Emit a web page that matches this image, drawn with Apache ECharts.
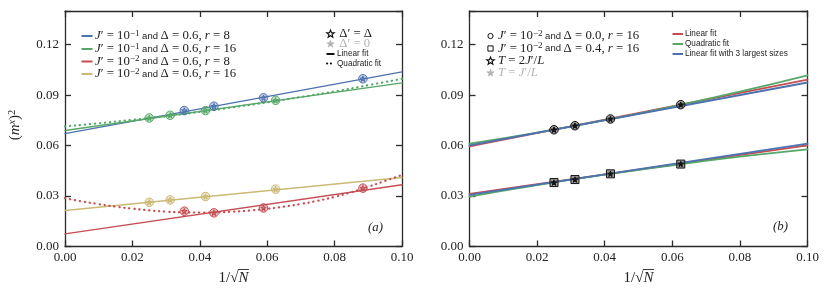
<!DOCTYPE html>
<html><head><meta charset="utf-8">
<script src="https://cdn.jsdelivr.net/npm/echarts@6/dist/echarts.min.js"></script>
<style>html,body{margin:0;padding:0;background:#fff}#c{width:831px;height:299px}</style>
</head><body><div id="c"></div>
<script>
// ---------- data ----------
const xTickRange = [0, 0.1];
const yTickRange = [0, 0.14];
// panel (a)
const xR8 = [0.0354, 0.0442, 0.0589, 0.0884];
const xR16 = [0.0250, 0.0312, 0.0417, 0.0625];
const yBlueR8 = [0.0808, 0.0834, 0.0884, 0.0997];
const yGreenR16 = [0.0764, 0.0780, 0.0808, 0.0869];
const yRedR8 = [0.0210, 0.0200, 0.0229, 0.0347];
const yYellowR16 = [0.0263, 0.0277, 0.0297, 0.0341];
const fitX = [0, 0.1];
const blueLinFit = [0.0671, 0.1038];
const greenLinFit = [0.0690, 0.0973];
const redLinFit = [0.0075, 0.0367];
const yellowLinFit = [0.0214, 0.0410];
const greenQuadX = [0, 0.01, 0.02, 0.03, 0.04, 0.05, 0.06, 0.07, 0.08, 0.09, 0.1];
const greenQuadY = [0.0714, 0.0732, 0.0753, 0.0775, 0.0800, 0.0828, 0.0857, 0.0889, 0.0922, 0.0959, 0.0997];
const redQuadX = [0, 0.005, 0.01, 0.015, 0.02, 0.025, 0.03, 0.035, 0.04, 0.045, 0.05, 0.055, 0.06, 0.065, 0.07, 0.075, 0.08, 0.085, 0.09, 0.095, 0.1];
const redQuadY = [0.0287, 0.0268, 0.0252, 0.0237, 0.0225, 0.0215, 0.0207, 0.0203, 0.0202, 0.0203, 0.0207, 0.0214, 0.0224, 0.0237, 0.0253, 0.0272, 0.0295, 0.0323, 0.0355, 0.0390, 0.0425];
// panel (b)
const xB = [0.0250, 0.0312, 0.0417, 0.0625];
const yCircle = [0.0694, 0.0718, 0.0758, 0.0843];
const ySquare = [0.0380, 0.0398, 0.0432, 0.0490];
const circLin = [0.0595, 0.0992];
const circLin3 = [0.0601, 0.0975];
const quadXB = [0, 0.02, 0.04, 0.06, 0.08, 0.1];
const circQuad = [0.0611, 0.0677, 0.0751, 0.0832, 0.0921, 0.1018];
const sqLin = [0.0313, 0.0601];
const sqLin3 = [0.0307, 0.0611];
const sqQuad = [0.0297, 0.0365, 0.0427, 0.0483, 0.0534, 0.0578];

const legendA = [
  ['−1', '0.6', '8'],
  ['−1', '0.6', '16'],
  ['−2', '0.6', '8'],
  ['−2', '0.6', '16']
];
const legendB = [
  ['−2', '0.0', '16'],
  ['−2', '0.4', '16']
];
const fitLegendB = ['Linear fit', 'Quadratic fit', 'Linear fit with 3 largest sizes'];

// ---------- styles ----------
const C = {blue:'#4C72B0', green:'#55A868', red:'#C44E52', yellow:'#CCB974'};
const AX = '#2b2b2b';
const SERIF = 'Liberation Serif';
const SANS = 'Liberation Sans';
const STAR = 'path://M0,-10L2.35,-3.24L9.51,-3.09L3.8,1.24L5.88,8.09L0,4L-5.88,8.09L-3.8,1.24L-9.51,-3.09L-2.35,-3.24Z';
const GREY = '#b3b3b3';
const INK = '#222';

const zip = (xs, ys) => xs.map((x, i) => [x, ys[i]]);
const grids = [
  {left: 65, top: 11, width: 337, height: 235.5},
  {left: 469.5, top: 11, width: 338, height: 235.5}
];

function xAx(g, pos) {
  return {gridIndex: g, type: 'value', min: xTickRange[0], max: xTickRange[1], interval: 0.02, position: pos,
    axisLine: {show: true, onZero: false, lineStyle: {color: AX, width: 1.3}},
    axisTick: {show: true, inside: true, length: 6, lineStyle: {color: AX, width: 1.3}},
    axisLabel: {show: pos === 'bottom', margin: 5, fontFamily: SERIF, fontSize: 13, color: INK,
      formatter: v => v.toFixed(2)},
    splitLine: {show: false}};
}
function yAx(g, pos) {
  return {gridIndex: g, type: 'value', min: yTickRange[0], max: yTickRange[1], interval: 0.03, position: pos,
    axisLine: {show: true, onZero: false, lineStyle: {color: AX, width: 1.3}},
    axisTick: {show: true, inside: true, length: 6, lineStyle: {color: AX, width: 1.3}},
    axisLabel: {show: pos === 'left', margin: 6, fontFamily: SERIF, fontSize: 13, color: INK,
      formatter: v => v > 0.125 ? '' : v.toFixed(2)},
    splitLine: {show: false}};
}

function line(xi, xs, ys, color, dotted, w, z) {
  return {type: 'line', xAxisIndex: xi, yAxisIndex: xi, data: zip(xs, ys), showSymbol: false, symbol: 'none',
    smooth: xs.length > 2, z: z || 2, silent: true,
    lineStyle: {color: color, width: w || 1.4, type: dotted ? [0.3, 4.7] : 'solid', cap: 'round'}};
}
function pts(xi, xs, ys, symbol, size, fill, stroke, z) {
  return {type: 'scatter', xAxisIndex: xi, yAxisIndex: xi, data: zip(xs, ys), symbol: symbol, symbolSize: size, z: z || 5,
    itemStyle: {color: fill, borderColor: stroke, borderWidth: 1, opacity: 1}};
}
function alpha(hex, a) {
  const n = parseInt(hex.slice(1), 16);
  return `rgba(${n >> 16},${(n >> 8) & 255},${n & 255},${a})`;
}

const series = [
  // panel a
  line(0, fitX, blueLinFit, C.blue),
  line(0, fitX, greenLinFit, C.green),
  line(0, fitX, redLinFit, C.red),
  line(0, fitX, yellowLinFit, C.yellow),
  line(0, greenQuadX, greenQuadY, C.green, true, 2.2),
  line(0, redQuadX, redQuadY, C.red, true, 2.2),
  pts(0, xR8, yBlueR8, 'circle', 8.5, alpha(C.blue, 0.35), C.blue),
  pts(0, xR8, yBlueR8, STAR, 5.5, alpha(C.blue, 0.6), C.blue, 6),
  pts(0, xR16, yGreenR16, 'circle', 8.5, alpha(C.green, 0.35), C.green),
  pts(0, xR16, yGreenR16, STAR, 5.5, alpha(C.green, 0.6), C.green, 6),
  pts(0, xR8, yRedR8, 'circle', 8.5, alpha(C.red, 0.35), C.red),
  pts(0, xR8, yRedR8, STAR, 5.5, alpha(C.red, 0.6), C.red, 6),
  pts(0, xR16, yYellowR16, 'circle', 8.5, alpha(C.yellow, 0.35), C.yellow),
  pts(0, xR16, yYellowR16, STAR, 5.5, alpha(C.yellow, 0.6), C.yellow, 6),
  // panel b
  line(2, fitX, circLin, C.red, false, 1.8, 2),
  line(2, quadXB, circQuad, C.green, false, 1.8, 3),
  line(2, fitX, circLin3, C.blue, false, 1.8, 4),
  line(2, fitX, sqLin, C.red, false, 1.8, 2),
  line(2, quadXB, sqQuad, C.green, false, 1.8, 3),
  line(2, fitX, sqLin3, C.blue, false, 1.8, 4),
  pts(2, xB, yCircle, 'circle', 8.5, 'rgba(90,90,90,0.6)', '#111'),
  pts(2, xB, yCircle, STAR, 5.5, '#111', '#111', 6),
  pts(2, xB, ySquare, 'rect', 8, 'rgba(90,90,90,0.6)', '#111'),
  pts(2, xB, ySquare, STAR, 5.5, '#111', '#111', 6)
];

// ---------- text helpers (zrender rich styles use "fill") ----------
const rich = {
  m: {fontFamily: SERIF, fontSize: 12.8, fill: INK},
  i: {fontFamily: SERIF, fontStyle: 'italic', fontSize: 12.8, fill: INK},
  s: {fontFamily: SANS, fontSize: 9.5, fill: INK},
  f: {fontFamily: SANS, fontSize: 8.2, fill: INK},
  sup: {fontFamily: SERIF, fontSize: 9, fill: INK, verticalAlign: 'top', padding: [0, 0, 5, 0]},
  g: {fontFamily: SERIF, fontSize: 12.8, fill: GREY},
  gi: {fontFamily: SERIF, fontStyle: 'italic', fontSize: 12.8, fill: GREY}
};
function jText(row) {
  return `{i|J}{m|′ = 10}{sup|${row[0]}}{s| and }{m|Δ = ${row[1]}, }{i|r}{m| = ${row[2]}}`;
}
function txt(x, y, text, extra) {
  return {type: 'text', x: x, y: y, silent: true,
    style: Object.assign({text: text, rich: rich, verticalAlign: 'middle', align: 'left', fill: INK}, extra || {})};
}
function seg(x1, y1, x2, color, w, dash, y2) {
  return {type: 'line', silent: true, shape: {x1: x1, y1: y1, x2: x2, y2: y2 === undefined ? y1 : y2},
    style: {stroke: color, lineWidth: w || 2, lineDash: dash || null, lineCap: dash ? 'round' : 'butt'}};
}
// legend star glyph
function starIcon(cx, cy, r, filled) {
  const p = [];
  for (let k = 0; k < 10; k++) {
    const a = -Math.PI / 2 + k * Math.PI / 5;
    const rr = k % 2 ? r * 0.42 : r;
    p.push([cx + rr * Math.cos(a), cy + rr * Math.sin(a)]);
  }
  return {type: 'polygon', silent: true, shape: {points: p},
    style: filled ? {fill: GREY, stroke: GREY, lineWidth: 0.5} : {fill: '#fff', stroke: '#111', lineWidth: 1.1}};
}

const graphic = [];
const rowsA = [36, 49, 61.5, 74];
const colA = [C.blue, C.green, C.red, C.yellow];
legendA.forEach((r, i) => {
  graphic.push(seg(81.5, rowsA[i], 92.5, colA[i], 2));
  graphic.push(txt(95, rowsA[i], jText(r)));
});
graphic.push(starIcon(330.5, 34, 4, false));
graphic.push(txt(336, 34, '{m| Δ′ = Δ}'));
graphic.push(starIcon(330.5, 44, 4, true));
graphic.push(txt(336, 44, '{g| Δ′ = 0}'));
graphic.push(seg(326.5, 54, 334.5, '#111', 2));
graphic.push(txt(337, 54, '{f|Linear fit}'));
graphic.push(seg(327, 63.5, 334.5, '#111', 2, [0.2, 3.6]));
graphic.push(txt(337, 63.5, '{f|Quadratic fit}'));
graphic.push(txt(368, 227.5, '{i|(a)}'));

const rowsB = [36, 48.5, 61, 73];
graphic.push({type: 'circle', silent: true, shape: {cx: 490.5, cy: rowsB[0], r: 2.6}, style: {fill: 'none', stroke: '#111', lineWidth: 1}});
graphic.push({type: 'rect', silent: true, shape: {x: 487.9, y: rowsB[1] - 2.6, width: 5.2, height: 5.2}, style: {fill: 'none', stroke: '#111', lineWidth: 1}});
legendB.forEach((r, i) => graphic.push(txt(498, rowsB[i], jText(r))));
graphic.push(starIcon(490.5, rowsB[2], 4, false));
graphic.push(txt(498, rowsB[2], '{i|T}{m| = 2}{i|J}{m|′/}{i|L}'));
graphic.push(starIcon(490.5, rowsB[3], 4, true));
graphic.push(txt(498, rowsB[3], '{gi|T}{g| = }{gi|J}{g|′/}{gi|L}'));
const rowsB2 = [34, 44, 54];
const colB2 = [C.red, C.green, C.blue];
fitLegendB.forEach((t, i) => {
  graphic.push(seg(672.5, rowsB2[i], 683, colB2[i], 2));
  graphic.push(txt(685, rowsB2[i], `{f|${t}}`));
});
graphic.push(txt(773, 227, '{i|(b)}'));

// axis names
const NF = 15;
const nameRich = {
  m: {fontFamily: SERIF, fontSize: NF, fill: INK},
  i: {fontFamily: SERIF, fontStyle: 'italic', fontSize: NF, fill: INK},
  sup: {fontFamily: SERIF, fontSize: 10.5, fill: INK, verticalAlign: 'top', padding: [0, 0, 6, 0]},
  supi: {fontFamily: SERIF, fontStyle: 'italic', fontSize: 10.5, fill: INK, verticalAlign: 'top', padding: [0, 0, 6, 0]}
};
graphic.push({type: 'text', x: 15, y: 125, rotation: Math.PI / 2, silent: true,
  style: {text: '{m|(}{i|m}{supi|x}{m|)}{sup|2}', rich: nameRich, align: 'center', verticalAlign: 'middle', fill: INK}});
const ctx = document.createElement('canvas').getContext('2d');
ctx.font = `${NF}px "${SERIF}"`;
const wA = ctx.measureText('1/√').width;
ctx.font = `italic ${NF}px "${SERIF}"`;
const wN = ctx.measureText('N').width;
[233.5, 638.5].forEach(cx => {
  const x0 = cx - (wA + wN) / 2;
  graphic.push({type: 'text', x: x0, y: 278, silent: true,
    style: {text: '{m|1/√}{i|N}', rich: nameRich, align: 'left', verticalAlign: 'middle', fill: INK}});
  graphic.push(seg(x0 + wA - 0.5, 269.5, x0 + wA + wN + 0.5, INK, 0.9));
});

const chart = echarts.init(document.getElementById('c'), null, {renderer: 'canvas'});
chart.setOption({
  animation: false,
  backgroundColor: '#fff',
  grid: grids,
  xAxis: [xAx(0, 'bottom'), xAx(0, 'top'), xAx(1, 'bottom'), xAx(1, 'top')],
  yAxis: [yAx(0, 'left'), yAx(0, 'right'), yAx(1, 'left'), yAx(1, 'right')],
  series: series,
  graphic: graphic
});
</script></body></html>
